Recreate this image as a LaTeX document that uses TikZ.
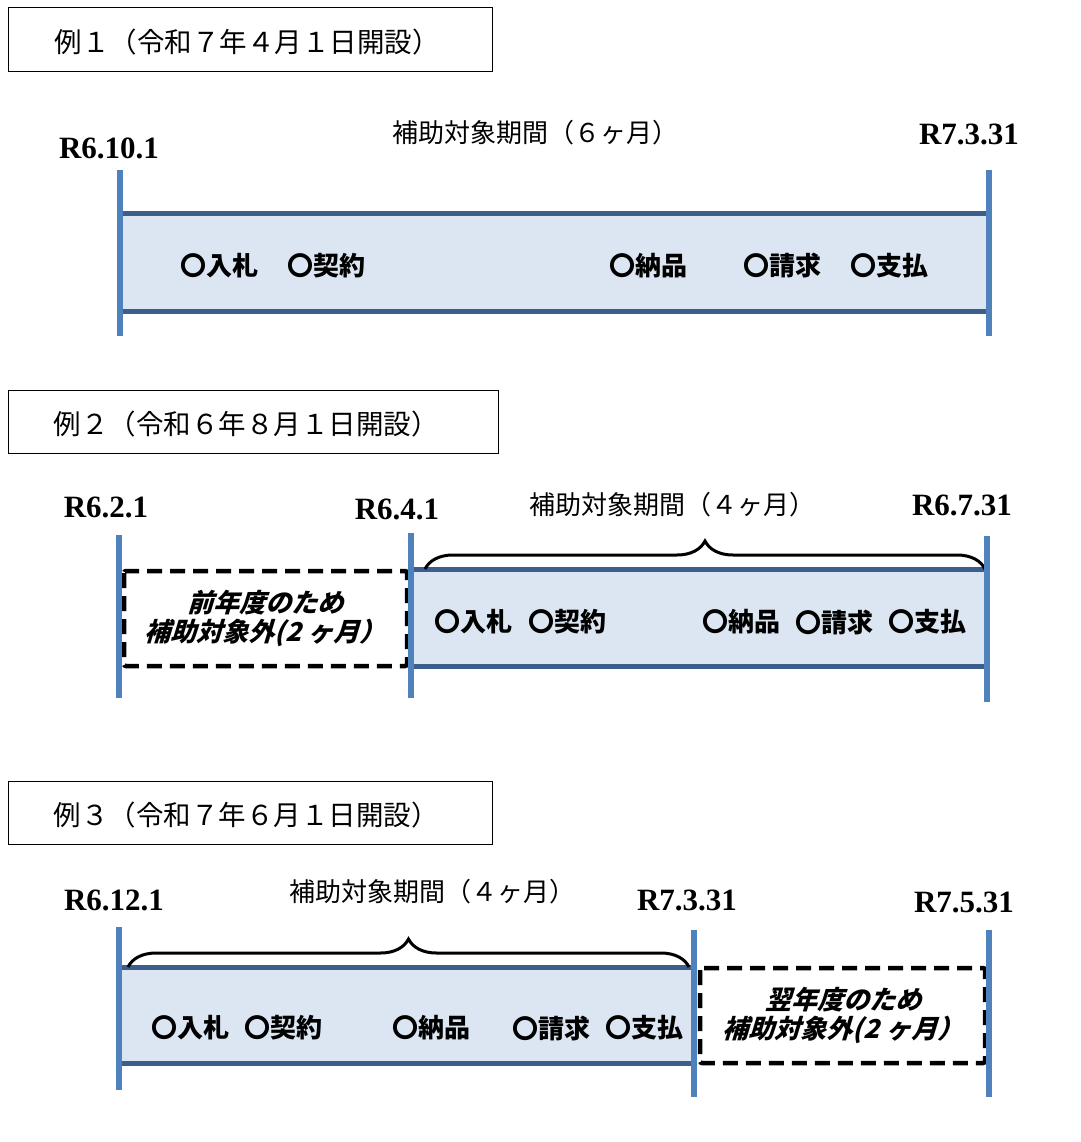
\documentclass[tikz,border=0pt]{standalone}
\usepackage{fontspec}
\setmainfont{Liberation Serif}
\newfontfamily\jp{Noto Sans CJK JP}
\newfontfamily\jpit{Noto Sans CJK JP}[FakeSlant=0.3]
\usetikzlibrary{decorations.pathreplacing}
\definecolor{fillA}{HTML}{DCE6F2}
\definecolor{edgeB}{HTML}{3B5E8C}
\definecolor{lineC}{HTML}{4F81BD}
\tikzset{
  tbox/.style={draw=black, line width=1pt, fill=white},
  ttext/.style={font=\jp\fontsize{27.5}{27.5}\selectfont, inner sep=0pt},
  datelbl/.style={font=\fontsize{31}{31}\selectfont\bfseries, inner sep=0pt},
  plabel/.style={font=\jp\fontsize{26}{26}\selectfont, inner sep=0pt},
  item/.style={font=\jp\bfseries\fontsize{26}{26}\selectfont, inner sep=0pt},
  dtext/.style={font=\jpit\bfseries\fontsize{26}{26}\selectfont, inner sep=0pt, align=center},
  pbox/.style={fill=fillA, draw=edgeB, line width=5pt},
  vline/.style={draw=lineC, line width=6pt},
  dbox/.style={draw=black, line width=4.5pt, dash pattern=on 15pt off 8pt, rounded corners=2pt},
  bracestyle/.style={draw=black, line width=3pt, decorate, decoration={brace, amplitude=28pt}}
}
\begin{document}
\begin{tikzpicture}[x=1pt,y=-1pt]
\useasboundingbox (0,0) rectangle (1080,1142);

% ---------- Example 1 ----------
\draw[tbox] (8,8) rectangle (492,72);
\node[ttext] (t1) at (247,42) {例１（令和７年４月１日開設）};
\node[datelbl] (d1a) at (109,148) {R6.10.1};
\node[datelbl] (d1b) at (969,134) {R7.3.31};
\node[plabel] (p1) at (535,133) {補助対象期間（６ヶ月）};
\draw[pbox] (120,213) rectangle (989,311);
\coordinate (v1at) at (120,170); \coordinate (v1ab) at (120,336);
\coordinate (v1bt) at (989,170); \coordinate (v1bb) at (989,336);
\draw[vline] (v1at) -- (v1ab);
\draw[vline] (v1bt) -- (v1bb);
\node[item] (i1a) at (219,266) {〇入札};
\node[item] (i1b) at (326,266) {〇契約};
\node[item] (i1c) at (648,266) {〇納品};
\node[item] (i1d) at (782,266) {〇請求};
\node[item] (i1e) at (889,266) {〇支払};

% ---------- Example 2 ----------
\draw[tbox] (8,390) rectangle (498,453);
\node[ttext] (t2) at (246,424) {例２（令和６年８月１日開設）};
\node[datelbl] (d2a) at (106,507) {R6.2.1};
\node[datelbl] (d2b) at (397,509) {R6.4.1};
\node[datelbl] (d2c) at (962,505) {R6.7.31};
\node[plabel] (p2) at (672,505) {補助対象期間（４ヶ月）};
\draw[dbox] (124,571) rectangle (407,666);
\node[dtext] (x2a) at (265,603) {前年度のため};
\node[dtext] (x2b) at (265,633) {補助対象外(2 ヶ月）};
\draw[pbox] (411,569) rectangle (987,666);
\coordinate (b2l) at (425,569); \coordinate (b2r) at (985,569);
\draw[bracestyle] (b2l) -- (b2r);
\coordinate (v2at) at (119,535); \coordinate (v2ab) at (119,698);
\coordinate (v2bt) at (411,533); \coordinate (v2bb) at (411,698);
\coordinate (v2ct) at (987,536); \coordinate (v2cb) at (987,702);
\draw[vline] (v2at) -- (v2ab);
\draw[vline] (v2bt) -- (v2bb);
\draw[vline] (v2ct) -- (v2cb);
\node[item] (i2a) at (473,622) {〇入札};
\node[item] (i2b) at (567,622) {〇契約};
\node[item] (i2c) at (741,622) {〇納品};
\node[item] (i2d) at (834,622) {〇請求};
\node[item] (i2e) at (927,622) {〇支払};

% ---------- Example 3 ----------
\draw[tbox] (8,781) rectangle (492,844);
\node[ttext] (t3) at (246,815) {例３（令和７年６月１日開設）};
\node[datelbl] (d3a) at (114,900) {R6.12.1};
\node[datelbl] (d3b) at (687,900) {R7.3.31};
\node[datelbl] (d3c) at (964,902) {R7.5.31};
\node[plabel] (p3) at (432,892) {補助対象期間（４ヶ月）};
\draw[pbox] (119,967) rectangle (694,1063);
\draw[dbox] (700,968) rectangle (985,1063);
\node[dtext] (x3a) at (843,1000) {翌年度のため};
\node[dtext] (x3b) at (843,1030) {補助対象外(2 ヶ月）};
\coordinate (b3l) at (128,967); \coordinate (b3r) at (689,967);
\draw[bracestyle] (b3l) -- (b3r);
\coordinate (v3at) at (119,927); \coordinate (v3ab) at (119,1090);
\coordinate (v3bt) at (694,930); \coordinate (v3bb) at (694,1097);
\coordinate (v3ct) at (989,930); \coordinate (v3cb) at (989,1097);
\draw[vline] (v3at) -- (v3ab);
\draw[vline] (v3bt) -- (v3bb);
\draw[vline] (v3ct) -- (v3cb);
\node[item] (i3a) at (190,1028) {〇入札};
\node[item] (i3b) at (283,1028) {〇契約};
\node[item] (i3c) at (431,1028) {〇納品};
\node[item] (i3d) at (551,1028) {〇請求};
\node[item] (i3e) at (644,1028) {〇支払};
\end{tikzpicture}
\end{document}
